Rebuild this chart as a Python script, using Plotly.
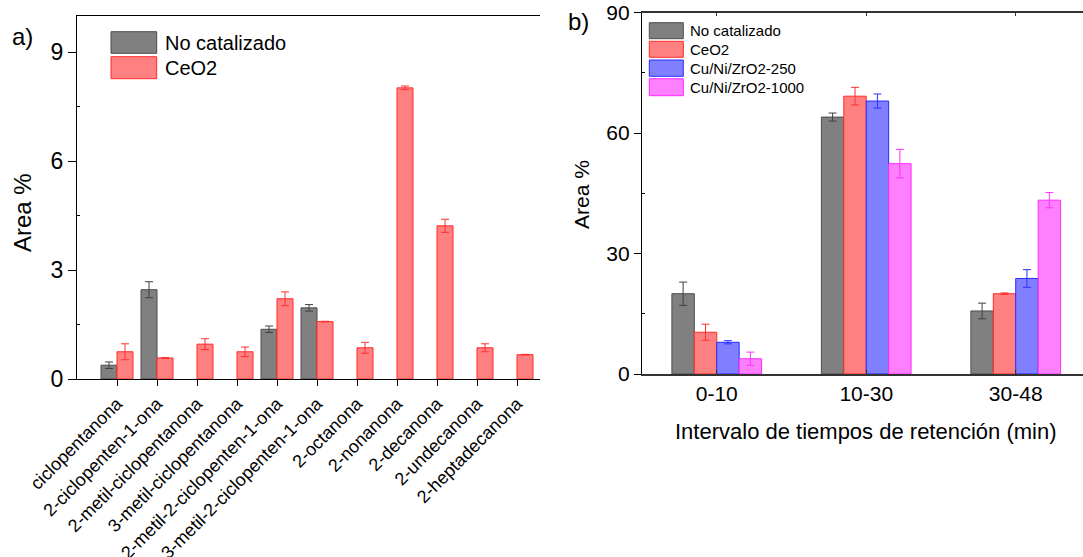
import plotly.graph_objects as go

W, H = 1083, 557

# ---- Panel a) data ----
compounds = ["ciclopentanona", "2-ciclopenten-1-ona", "2-metil-ciclopentanona",
             "3-metil-ciclopentanona", "2-metil-2-ciclopenten-1-ona",
             "3-metil-2-ciclopenten-1-ona", "2-octanona", "2-nonanona",
             "2-decanona", "2-undecanona", "2-heptadecanona"]
a_nocat = [0.38, 2.46, None, None, 1.37, 1.96, None, None, None, None, None]
a_nocat_err = [0.09, 0.22, None, None, 0.09, 0.09, None, None, None, None, None]
a_ceo2 = [0.75, 0.58, 0.96, 0.75, 2.21, 1.58, 0.86, 8.02, 4.22, 0.86, 0.67]
a_ceo2_err = [0.22, 0.01, 0.15, 0.13, 0.19, 0.01, 0.15, 0.05, 0.18, 0.11, 0.01]

# ---- Panel b) data ----
intervals = ["0-10", "10-30", "30-48"]
b_series = ["No catalizado", "CeO2", "Cu/Ni/ZrO2-250", "Cu/Ni/ZrO2-1000"]
b_nocat = [20.0, 64.0, 15.7]
b_nocat_err = [2.9, 1.0, 1.95]
b_ceo2 = [10.4, 69.2, 20.0]
b_ceo2_err = [2.0, 2.2, 0.2]
b_cu250 = [7.9, 68.0, 23.8]
b_cu250_err = [0.4, 1.75, 2.2]
b_cu1000 = [3.8, 52.4, 43.3]
b_cu1000_err = [1.65, 3.55, 1.9]

FILL = ["#808080", "#ff8080", "#8080ff", "#ff80ff"]
EDGE = ["#4d4d4d", "#ff2a2a", "#2a2aff", "#ff2aff"]
ERR = ["#404040", "#ff3030", "#3030ff", "#ff30ff"]

FONT = "Liberation Sans, Arial, sans-serif"

def px_x(x):
    return x / W

def px_y(y):
    return 1 - y / H

fig = go.Figure()

# Panel a bars
for vals, errs, i, name, off in [(a_nocat, a_nocat_err, 0, "No catalizado", -0.4),
                                 (a_ceo2, a_ceo2_err, 1, "CeO2", 0.0)]:
    fig.add_trace(go.Bar(
        x=compounds, y=vals, name=name, width=0.4, offset=off,
        marker=dict(color=FILL[i], line=dict(color=EDGE[i], width=1)),
        error_y=dict(type="data", array=errs, visible=True, color=ERR[i],
                     thickness=1, width=4),
        xaxis="x", yaxis="y", showlegend=False))

# Panel b bars
b_vals = [b_nocat, b_ceo2, b_cu250, b_cu1000]
b_errs = [b_nocat_err, b_ceo2_err, b_cu250_err, b_cu1000_err]
for i, (vals, errs, name) in enumerate(zip(b_vals, b_errs, b_series)):
    fig.add_trace(go.Bar(
        x=intervals, y=vals, name=name, width=0.15, offset=-0.3 + 0.15 * i,
        marker=dict(color=FILL[i], line=dict(color=EDGE[i], width=1)),
        error_y=dict(type="data", array=errs, visible=True, color=ERR[i],
                     thickness=1, width=4),
        xaxis="x2", yaxis="y2", showlegend=False))

fig.update_layout(
    width=W, height=H,
    margin=dict(l=0, r=0, t=0, b=0, autoexpand=False),
    paper_bgcolor="white", plot_bgcolor="white",
    font=dict(family=FONT, color="black"),
    barmode="group",
    xaxis=dict(domain=[px_x(77), px_x(540)], type="category",
               categoryorder="array", categoryarray=compounds,
               range=[-1.0, 10.575], showline=True, linecolor="black",
               linewidth=1.3, mirror=True, ticks="outside", ticklen=6,
               tickcolor="black", tickangle=-45, tickfont=dict(size=18),
               showgrid=False, anchor="y", automargin=False),
    yaxis=dict(domain=[px_y(379), px_y(16)], range=[0, 10], tickvals=[0, 3, 6, 9],
               showline=True, linecolor="black", linewidth=1.3, ticks="outside",
               ticklen=8, tickcolor="black", tickfont=dict(size=23),
               showgrid=False, zeroline=False, anchor="x", automargin=False,
               minor=dict(tickvals=[1.5, 4.5, 7.5], ticks="inside", ticklen=3,
                          tickcolor="black", showgrid=False)),
    xaxis2=dict(domain=[px_x(642), 1.0], type="category",
                categoryorder="array", categoryarray=intervals,
                range=[-0.5, 2.45], showline=True, linecolor="#333333",
                linewidth=1.5, mirror="ticks", ticks="inside", ticklen=4,
                tickcolor="#333333", tickfont=dict(size=21),
                showgrid=False, anchor="y2", automargin=False),
    yaxis2=dict(domain=[px_y(374), px_y(12.7)], range=[0, 90],
                tickvals=[0, 30, 60, 90], showline=True, linecolor="black",
                linewidth=1.3, ticks="outside", ticklen=7, tickcolor="black",
                tickfont=dict(size=21), showgrid=False, zeroline=False,
                anchor="x2", automargin=False,
                minor=dict(tickvals=[15, 45, 75], ticks="inside", ticklen=3,
                           tickcolor="black", showgrid=False)),
)

shapes = []
annotations = []

# Legend a)
leg_a = [("No catalizado", 0, 31.7, 53.3), ("CeO2", 1, 56.7, 78.7)]
for name, i, y0, y1 in leg_a:
    shapes.append(dict(type="rect", xref="paper", yref="paper",
                       x0=px_x(111), x1=px_x(156.7), y0=px_y(y1), y1=px_y(y0),
                       fillcolor=FILL[i], line=dict(color=EDGE[i], width=1)))
    annotations.append(dict(text=name, xref="paper", yref="paper",
                            x=px_x(163), y=px_y((y0 + y1) / 2), xanchor="left",
                            yanchor="middle", showarrow=False,
                            font=dict(size=20, family=FONT)))

# Legend b)
leg_b = [(22.7, 38.7), (41.3, 57.3), (60.0, 76.3), (78.7, 95.7)]
for i, ((y0, y1), name) in enumerate(zip(leg_b, b_series)):
    shapes.append(dict(type="rect", xref="paper", yref="paper",
                       x0=px_x(649.3), x1=px_x(683.3), y0=px_y(y1), y1=px_y(y0),
                       fillcolor=FILL[i], line=dict(color=EDGE[i], width=1)))
    annotations.append(dict(text=name, xref="paper", yref="paper",
                            x=px_x(687.5), y=px_y((y0 + y1) / 2), xanchor="left",
                            yanchor="middle", showarrow=False,
                            font=dict(size=15, family=FONT)))

# Panel labels and axis titles
annotations += [
    dict(text="a)", xref="paper", yref="paper", x=px_x(22), y=px_y(36),
         xanchor="center", yanchor="middle", showarrow=False, font=dict(size=24)),
    dict(text="b)", xref="paper", yref="paper", x=px_x(578), y=px_y(22),
         xanchor="center", yanchor="middle", showarrow=False, font=dict(size=24)),
    dict(text="Area %", xref="paper", yref="paper", x=px_x(22), y=px_y(213),
         xanchor="center", yanchor="middle", showarrow=False, textangle=-90,
         font=dict(size=24)),
    dict(text="Area %", xref="paper", yref="paper", x=px_x(581), y=px_y(195),
         xanchor="center", yanchor="middle", showarrow=False, textangle=-90,
         font=dict(size=21)),
    dict(text="Intervalo de tiempos de retención (min)", xref="paper",
         yref="paper", x=px_x(866), y=px_y(432), xanchor="center",
         yanchor="middle", showarrow=False, font=dict(size=22)),
]

fig.update_layout(shapes=shapes, annotations=annotations)

fig.write_html("out.html")
